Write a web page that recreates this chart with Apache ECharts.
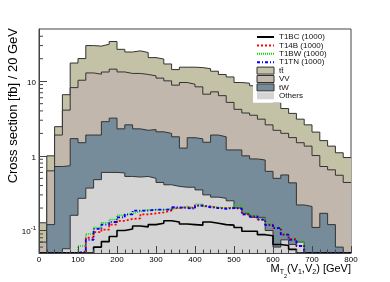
<!DOCTYPE html>
<html><head><meta charset="utf-8">
<script src="https://cdn.jsdelivr.net/npm/echarts@6/dist/echarts.min.js"></script>
<style>html,body{margin:0;padding:0;background:#fff}#c{width:390px;height:282px}</style>
</head><body><div id="c"></div>
<script>
// ---- data (20 GeV bins, lower edges) ----
const binLow = [0,20,40,60,80,100,120,140,160,180,200,220,240,260,280,300,320,340,360,380,
                400,420,440,460,480,500,520,540,560,580,600,620,640,660,680,700,720,740,760,780];
const xMax = 800;
// stacked backgrounds (fb / 20 GeV)
const others = [0,0,0,0.057,0.16,0.27,0.37,0.48,0.6,0.6,0.59,0.53,0.52,0.53,0.5,0.44,0.41,0.39,0.38,0.38,
                0.35,0.3,0.28,0.27,0.25,0.2,0.17,0.15,0.15,0.1,0.06,0.075,0.065,0.07,0,0,0,0,0,0];
const tW = [0,0.12,0.72,0.68,1.54,1.23,1.53,1.42,2.27,2.6,1.71,2.07,1.78,1.67,1.75,1.66,1.59,1.41,0.89,1.37,
            1.34,1.22,1.62,1.53,0.95,1.0,0.83,0.76,0.73,0.52,0.44,0.48,0.37,0.15,0.21,0.11,0.17,0.12,0.06,0];
const VV = [0.07,0.51,1.18,3.36,6.5,8.8,11.0,10.5,10.4,11.3,11.0,10.1,10.4,10.1,9.55,8.9,8.1,7.05,8.33,7.35,
            6.71,5.18,5.3,4.6,4.0,3.0,2.75,2.59,2.22,1.98,1.7,1.45,1.32,1.28,1.14,0.9,0.55,0.53,0.49,0.44];
const ttbar = [0.057,0.37,0.56,2.5,9.3,9.8,17.1,17.1,18.0,19.5,13.4,11.9,12.8,11.9,8.9,8.8,6.9,5.45,5.8,6.3,
               6.8,8.0,6.4,5.9,6.2,5.4,5.65,5.2,4.3,3.6,3.0,2.3,1.95,1.6,1.25,1.07,0.88,0.7,0.55,0.51];
// signals
const T1BC = [0,0,0,0,0,0,0.045,0.06,0.071,0.083,0.1,0.105,0.115,0.112,0.12,0.125,0.135,0.13,0.122,0.12,
              0.118,0.13,0.125,0.12,0.118,0.11,0.098,0.098,0.088,0.085,0.065,0.063,0.056,0.045,0,0,0,0,0,0];
const T14B = [0,0,0,0,0,0,0.08,0.095,0.103,0.12,0.135,0.143,0.145,0.165,0.17,0.175,0.185,0.2,0.205,0.2,
              0.215,0.21,0.2,0.2,0.2,0.2,0.165,0.155,0.14,0.12,0.108,0.088,0.077,0.062,0,0,0,0,0,0];
const T1BW = [0,0,0,0,0,0.062,0.09,0.11,0.127,0.14,0.16,0.17,0.18,0.19,0.19,0.19,0.195,0.2,0.21,0.2,
              0.225,0.21,0.205,0.2,0.205,0.22,0.175,0.16,0.145,0.122,0.11,0.09,0.078,0.07,0,0,0,0,0,0];
const T1TN = [0,0,0,0,0,0.053,0.075,0.105,0.12,0.13,0.15,0.165,0.185,0.185,0.19,0.19,0.19,0.205,0.2,0.195,
              0.215,0.205,0.2,0.195,0.2,0.195,0.165,0.155,0.14,0.118,0.108,0.088,0.075,0.062,0,0,0,0,0,0];
const minorY = [0.06,0.07,0.08,0.09,0.2,0.3,0.4,0.5,0.6,0.7,0.8,0.9,2,3,4,5,6,7,8,9,20,30,40];
const yMin = 0.05, yMax = 50;

// ---- helpers ----
function cum(...arrs){ return binLow.map((_, i) => arrs.reduce((s, a) => s + a[i], 0)); }
function stepData(vals){
  const d = binLow.map((x, i) => [x, Math.max(vals[i], yMin)]);
  d.push([xMax, Math.max(vals[vals.length - 1], yMin)]);
  return d;
}
const FONT = 'Liberation Sans, Arial, Helvetica, sans-serif';
const COL = {tt:'#c3c2a6', vv:'#c1b7ac', tw:'#768c9a', oth:'#d4d4d4'};
function areaSeries(name, vals, color, z){
  return {name, type:'line', step:'end', data:stepData(vals), symbol:'none', z,
    lineStyle:{color:'#333', width:1}, itemStyle:{color},
    areaStyle:{color, opacity:1, origin:'start'}, silent:true};
}
function sigSeries(name, vals, color, type, width, z){
  return {name, type:'line', step:'end', data:stepData(vals), symbol:'none', z,
    lineStyle:{color, width, type}, itemStyle:{color}, silent:true};
}
const hideSym = {opacity:0};

const chart = echarts.init(document.getElementById('c'), null, {renderer:'canvas'});
chart.setOption({
  animation:false,
  textStyle:{fontFamily:FONT},
  grid:{left:39, right:39, top:29, bottom:29, show:true, borderColor:'#444', borderWidth:1},
  xAxis:{type:'value', min:0, max:xMax, interval:100, z:10,
    axisLine:{lineStyle:{color:'#444', width:1}},
    axisTick:{inside:true, length:7, lineStyle:{color:'#444'}},
    minorTick:{show:true, splitNumber:5, length:3.5, lineStyle:{color:'#444'}},
    splitLine:{show:false},
    axisLabel:{fontSize:8, color:'#000', margin:3, fontFamily:FONT}},
  yAxis:{type:'log', logBase:10, min:yMin, max:yMax, z:10,
    axisLine:{lineStyle:{color:'#444', width:1}},
    axisTick:{inside:true, length:8, lineStyle:{color:'#444'}},
    splitLine:{show:false},
    axisLabel:{fontSize:8, color:'#000', margin:3, showMinLabel:false, showMaxLabel:false, fontFamily:FONT,
      formatter:function(v){
        const l = Math.log10(v);
        if (Math.abs(l - Math.round(l)) > 1e-6) return '';
        const n = Math.round(l);
        if (n === 0) return '{b|1}';
        if (n === 1) return '{b|10}';
        return '{b|10}{s|' + n + '}';
      },
      rich:{b:{fontSize:8, verticalAlign:'top', padding:[3,0,0,0]}, s:{fontSize:6, verticalAlign:'top', padding:[0,0,0,0]}}}},
  legend:{orient:'vertical', left:253, top:31, itemWidth:17, itemHeight:7, itemGap:0.4,
    backgroundColor:'#fff', padding:[2,4,3,3],
    textStyle:{fontSize:8, lineHeight:8, color:'#111', fontFamily:FONT},
    data:[
      {name:'T1BC (1000)', itemStyle:hideSym},
      {name:'T14B (1000)', itemStyle:hideSym},
      {name:'T1BW (1000)', itemStyle:hideSym},
      {name:'T1TN (1000)', itemStyle:hideSym},
      {name:'tt\u0304', icon:'rect', itemStyle:{color:COL.tt, borderColor:'#333', borderWidth:1}},
      {name:'VV', icon:'rect', itemStyle:{color:COL.vv, borderColor:'#333', borderWidth:1}},
      {name:'tW', icon:'rect', itemStyle:{color:COL.tw, borderColor:'#333', borderWidth:1}},
      {name:'Others', icon:'rect', itemStyle:{color:COL.oth, borderColor:COL.oth, borderWidth:0}}
    ]},
  graphic:[
    {type:'text', x:13, y:28, rotation:Math.PI/2, z:100,
     style:{text:'Cross section [fb] / 20 GeV', fontSize:13, fontFamily:FONT, fill:'#000', align:'right', verticalAlign:'middle'}},
    {type:'text', x:351, y:263, z:100,
     style:{text:'{m|M}{s|T}{ss|2}{m|(V}{s|1}{m|,V}{s|2}{m|) [GeV]}', align:'right', verticalAlign:'top', fill:'#000',
       rich:{m:{fontSize:11, fontFamily:FONT, verticalAlign:'top'},
             s:{fontSize:7, fontFamily:FONT, verticalAlign:'top', padding:[6,0,0,0]},
             ss:{fontSize:5.5, fontFamily:FONT, verticalAlign:'top', padding:[10,0,0,0]}}}}
  ],
  series:[
    areaSeries('tt\u0304', cum(others, tW, VV, ttbar), COL.tt, 2),
    areaSeries('VV', cum(others, tW, VV), COL.vv, 3),
    areaSeries('tW', cum(others, tW), COL.tw, 4),
    {name:'Others', type:'line', step:'end', data:stepData(cum(others)), symbol:'none', z:5,
     lineStyle:{color:'#333', width:1}, itemStyle:{color:COL.oth}, areaStyle:{color:COL.oth, opacity:1, origin:'start'}, silent:true},
    sigSeries('T1BC (1000)', T1BC, '#000', 'solid', 1.6, 9),
    sigSeries('T14B (1000)', T14B, '#ff0000', [2,2], 1.8, 7),
    sigSeries('T1BW (1000)', T1BW, '#00dd00', [1,1], 1.5, 6),
    sigSeries('T1TN (1000)', T1TN, '#0000ff', [3,2,1,2], 1.8, 8),
    {type:'custom', name:'minorTicksY', z:11, silent:true, clip:false,
     data:minorY.map(v => [0, v]),
     encode:{x:0, y:1},
     renderItem:function(params, api){
       const p = api.coord([0, api.value(1)]);
       return {type:'line', shape:{x1:p[0], y1:p[1], x2:p[0] + 4, y2:p[1]}, style:{stroke:'#444', lineWidth:1}};
     }}
  ]
});
</script></body></html>
